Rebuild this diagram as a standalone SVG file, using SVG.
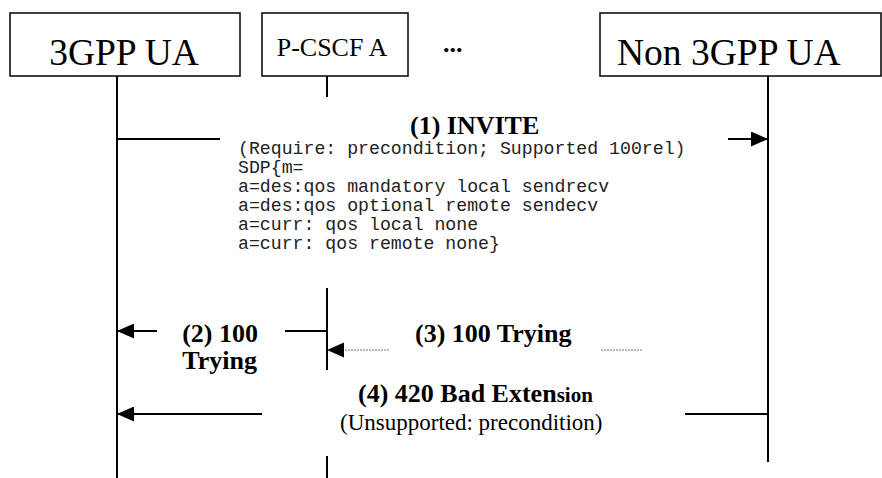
<svg xmlns="http://www.w3.org/2000/svg" width="882" height="478" viewBox="0 0 882 478">
<style>
.box{fill:#fff;stroke:#000;stroke-width:1.5}
.life{stroke:#000;stroke-width:2;fill:none}
.msg{stroke:#000;stroke-width:2;fill:none}
.dot{stroke:#777;stroke-width:1.2;stroke-dasharray:2 1;fill:none}
.big{font-family:"Liberation Serif",serif;font-size:37.5px;fill:#000}
.mid{font-family:"Liberation Serif",serif;font-size:26px;fill:#000}
.lbl{font-family:"Liberation Serif",serif;font-size:26px;font-weight:bold;fill:#000}
.reg{font-family:"Liberation Serif",serif;font-size:23px;fill:#000}
.mono{font-family:"Liberation Mono",monospace;font-size:18.2px;fill:#222}
</style>
<defs>
<marker id="ah" markerUnits="userSpaceOnUse" markerWidth="17" markerHeight="15" refX="17" refY="7.5" orient="auto">
<path d="M0,0 L17,7.5 L0,15 z" fill="#000"/>
</marker>
</defs>
<rect width="882" height="478" fill="#fff"/>
<g id="ua3gpp">
<rect class="box" x="10" y="13" width="230" height="63"/>
<text class="big" x="124" y="65" text-anchor="middle">3GPP UA</text>
</g>
<g id="pcscf">
<rect class="box" x="262" y="13" width="146" height="63"/>
<text class="mid" x="332" y="56" text-anchor="middle">P-CSCF A</text>
</g>
<g id="dots">
<text class="lbl" x="443" y="52" font-size="30">...</text>
</g>
<g id="uanon">
<rect class="box" x="600" y="13" width="281" height="63"/>
<text class="big" x="617" y="65">Non 3GPP UA</text>
</g>
<g id="lifelines">
<line class="life" x1="117" y1="76" x2="117" y2="478"/>
<line class="life" x1="327" y1="76" x2="327" y2="97"/>
<line class="life" x1="327" y1="288" x2="327" y2="370"/>
<line class="life" x1="327" y1="456" x2="327" y2="478"/>
<line class="life" x1="768" y1="76" x2="768" y2="462"/>
</g>
<g id="connectors">
<line class="msg" x1="117" y1="139" x2="220" y2="139"/>
<line class="msg" x1="728" y1="139" x2="768" y2="139" marker-end="url(#ah)"/>
<line class="msg" x1="157" y1="331" x2="117" y2="331" marker-end="url(#ah)"/>
<line class="msg" x1="285" y1="331" x2="327" y2="331"/>
<line class="dot" x1="389" y1="350" x2="344" y2="350"/>
<path d="M327,350 L344,342.5 L344,357.5 z" fill="#000"/>
<line class="dot" x1="601" y1="350" x2="642" y2="350"/>
<line class="msg" x1="262" y1="414" x2="117" y2="414" marker-end="url(#ah)"/>
<line class="msg" x1="685" y1="414" x2="768" y2="414"/>
</g>
<g id="labels">
<text class="lbl" x="410" y="134">(1) INVITE</text>
<text class="mono" x="238" y="154">(Require: precondition; Supported 100rel)</text>
<text class="mono" x="238" y="173">SDP{m=</text>
<text class="mono" x="238" y="192">a=des:qos mandatory local sendrecv</text>
<text class="mono" x="238" y="211">a=des:qos optional remote sendecv</text>
<text class="mono" x="238" y="230">a=curr: qos local none</text>
<text class="mono" x="238" y="249">a=curr: qos remote none}</text>
<text class="lbl" x="258" y="342" text-anchor="end">(2) 100</text>
<text class="lbl" x="257" y="369" text-anchor="end">Trying</text>
<text class="lbl" x="415" y="342">(3) 100 Trying</text>
<text class="lbl" x="358" y="402">(4) 420 Bad Exten<tspan font-size="21px">sion</tspan></text>
<text class="reg" x="340" y="429.5">(Unsupported: precondition)</text>
</g>
</svg>
